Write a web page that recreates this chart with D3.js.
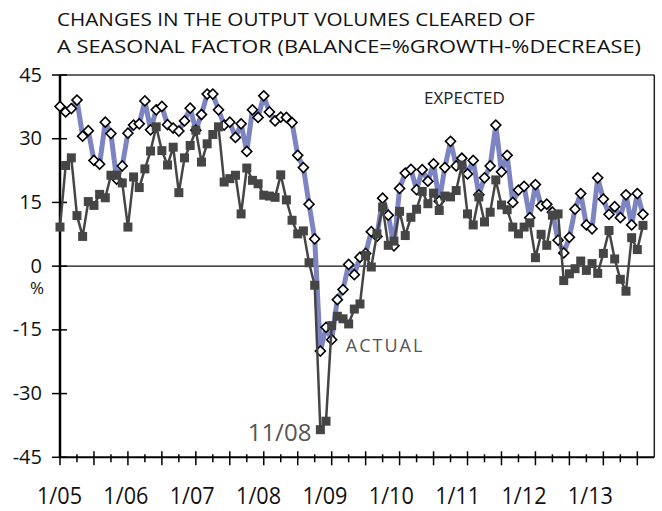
<!DOCTYPE html>
<html>
<head>
<meta charset="utf-8">
<script src="https://cdn.jsdelivr.net/npm/d3@7/dist/d3.min.js"></script>
<style>
  html, body { margin: 0; padding: 0; background: #fff; }
  svg { display: block; }
  text { font-family: "Open Sans", "DejaVu Sans", sans-serif; }
</style>
</head>
<body>
<svg id="chart" width="662" height="511"></svg>
<script>
// Monthly balance, Jan 2005 – Aug 2013 (index 0 = 1/05)
const expected = [
  37.6, 36.3, 37.1, 39.1, 30.6, 31.9, 24.9, 24.0, 33.9, 31.2, 20.5, 23.6,
  31.3, 33.2, 33.5, 38.9, 32.1, 36.8, 37.6, 33.3, 32.5, 31.8, 34.2, 37.2,
  32.0, 35.7, 40.5, 40.5, 36.8, 33.2, 33.9, 30.3, 33.5, 27.0, 36.8, 35.0,
  40.1, 36.3, 34.2, 35.1, 35.0, 33.8, 26.1, 23.2, 14.6, 6.4, -20.0, -14.4,
  -17.3, -7.9, -5.5, 0.4, -2.0, 2.1, 3.0, 8.1, 7.0, 16.0, 12.0, 4.8,
  18.3, 21.9, 22.8, 18.0, 22.7, 20.0, 24.1, 15.3, 23.2, 29.4, 23.6, 25.4,
  21.7, 24.9, 16.8, 20.8, 23.6, 33.2, 22.2, 26.1, 15.0, 17.9, 18.8, 11.4,
  19.2, 14.2, 14.6, 12.7, 6.1, 3.1, 6.8, 13.4, 17.1, 9.7, 8.8, 20.8,
  15.8, 12.2, 14.0, 11.4, 16.8, 9.7, 17.1, 12.2
];
const actual = [
  9.2, 23.7, 25.5, 11.9, 7.0, 15.2, 14.3, 16.9, 16.1, 21.4, 21.4, 19.6,
  9.2, 21.0, 18.5, 22.9, 27.1, 32.8, 27.2, 23.8, 28.0, 17.3, 25.5, 28.4,
  32.0, 24.5, 28.8, 31.0, 32.8, 19.8, 20.6, 21.4, 12.3, 23.1, 20.2, 19.4,
  16.7, 16.5, 16.2, 21.5, 15.6, 10.8, 7.6, 8.3, 0.8, -4.5, -38.5, -36.5,
  -14.0, -11.8, -12.4, -13.6, -10.1, -8.9, 2.5, -0.2, 7.6, 13.9, 4.9, 5.9,
  12.9, 7.2, 11.5, 13.4, 17.6, 14.7, 17.2, 13.1, 16.5, 16.3, 17.8, 23.8,
  12.3, 9.7, 16.3, 10.4, 12.7, 20.3, 14.4, 13.3, 9.2, 7.6, 9.2, 10.2,
  2.0, 7.5, 4.9, 12.0, 12.3, -3.4, -1.8, -0.6, 1.2, -1.0, 0.6, -1.7,
  3.0, 8.4, 1.7, -3.1, -5.9, 6.7, 3.9, 9.6
];
const yTicks = [-45, -30, -15, 0, 15, 30, 45];
const yearLabels = ["1/05", "1/06", "1/07", "1/08", "1/09", "1/10", "1/11", "1/12", "1/13"];
const titleLines = [
  "CHANGES IN THE OUTPUT VOLUMES CLEARED OF",
  "A SEASONAL FACTOR (BALANCE=%GROWTH-%DECREASE)"
];
const unitLabel = "%";
const peakLabel = "11/08";
const peakIndex = 46;

const svg = d3.select("#chart");
const plotLeft = 60, plotRight = 654.3, plotTop = 75, plotBottom = 457.3;

const x = d3.scaleLinear().domain([0, 105]).range([plotLeft, plotRight]);
const y = d3.scaleLinear().domain([-45, 45]).range([plotBottom, plotTop]);
// year labels sit a little left of their January ticks
const xLab = d3.scaleLinear().domain([0, 96]).range([x(0) - 0.5, x(96) - 13]);

// title
svg.selectAll("text.title").data(titleLines).join("text")
  .attr("class", "title")
  .attr("x", 57)
  .attr("y", (d, i) => 26 + i * 27)
  .attr("font-size", 18.5)
  .attr("fill", "#111")
  .attr("textLength", (d, i) => i === 0 ? 478 : 584)
  .attr("lengthAdjust", "spacingAndGlyphs")
  .text(d => d);

// frame: top and right
svg.append("line").attr("x1", plotLeft).attr("x2", plotRight).attr("y1", plotTop).attr("y2", plotTop)
  .attr("stroke", "#333").attr("stroke-width", 1.5);
svg.append("line").attr("x1", plotRight).attr("x2", plotRight).attr("y1", plotTop).attr("y2", plotBottom)
  .attr("stroke", "#222").attr("stroke-width", 1.5);

// zero line
svg.append("line").attr("x1", plotLeft).attr("x2", plotRight).attr("y1", y(0)).attr("y2", y(0))
  .attr("stroke", "#111").attr("stroke-width", 1.3);

// y axis
const yAxis = svg.append("g");
yAxis.append("line").attr("x1", plotLeft).attr("x2", plotLeft).attr("y1", plotTop).attr("y2", plotBottom)
  .attr("stroke", "#000").attr("stroke-width", 2.5);
yAxis.selectAll("line.tick").data(yTicks).join("line")
  .attr("class", "tick")
  .attr("x1", plotLeft - 8).attr("x2", plotLeft + 7)
  .attr("y1", d => y(d)).attr("y2", d => y(d))
  .attr("stroke", "#000").attr("stroke-width", 1.5);
yAxis.selectAll("text.ylab").data(yTicks).join("text")
  .attr("class", "ylab")
  .attr("x", 42)
  .attr("y", d => y(d) + 6.5)
  .attr("text-anchor", "end")
  .attr("font-size", 20)
  .attr("fill", "#111")
  .text(d => d);
// unit sign under the zero label
yAxis.append("text")
  .attr("x", 37)
  .attr("y", y(0) + 28)
  .attr("text-anchor", "middle")
  .attr("font-family", "'Liberation Sans', Arial, sans-serif")
  .attr("font-size", 17)
  .attr("fill", "#111")
  .text(unitLabel);

// x axis
const xAxis = svg.append("g");
xAxis.append("line").attr("x1", plotLeft).attr("x2", plotRight).attr("y1", plotBottom).attr("y2", plotBottom)
  .attr("stroke", "#000").attr("stroke-width", 2);
const xTicks = d3.range(0, 103, 3);
xAxis.selectAll("line.tick").data(xTicks).join("line")
  .attr("class", "tick")
  .attr("x1", d => x(d)).attr("x2", d => x(d))
  .attr("y1", d => d % 6 === 0 ? plotBottom - 6 : plotBottom - 3)
  .attr("y2", d => d % 6 === 0 ? plotBottom + 8 : plotBottom + 5)
  .attr("stroke", "#000").attr("stroke-width", 1.5);
xAxis.selectAll("text").data(yearLabels).join("text")
  .attr("x", (d, i) => xLab(i * 12))
  .attr("y", 503.5)
  .attr("text-anchor", "middle")
  .attr("font-size", 24)
  .attr("fill", "#111")
  .attr("textLength", 45)
  .attr("lengthAdjust", "spacingAndGlyphs")
  .text(d => d);

// series
const line = d3.line().x((d, i) => x(i)).y(d => y(d));

svg.append("path").datum(expected)
  .attr("d", line)
  .attr("fill", "none")
  .attr("stroke", "#7D84C2")
  .attr("stroke-width", 5)
  .attr("stroke-linejoin", "round");

const diamond = d3.symbol().type(d3.symbolSquare).size(50);
svg.append("g").selectAll("path").data(expected).join("path")
  .attr("d", diamond)
  .attr("transform", (d, i) => `translate(${x(i)},${y(d)}) rotate(45)`)
  .attr("fill", "#fff")
  .attr("stroke", "#000")
  .attr("stroke-width", 1.6);

svg.append("path").datum(actual)
  .attr("d", line)
  .attr("fill", "none")
  .attr("stroke", "#454545")
  .attr("stroke-width", 2.5)
  .attr("stroke-linejoin", "round");

const square = d3.symbol().type(d3.symbolSquare).size(81);
svg.append("g").selectAll("path").data(actual).join("path")
  .attr("d", square)
  .attr("transform", (d, i) => `translate(${x(i)},${y(d)})`)
  .attr("fill", "#454545");

// annotations
svg.append("text")
  .attr("x", x(64.3)).attr("y", y(38.1))
  .attr("font-size", 17)
  .attr("fill", "#222")
  .text("EXPECTED");

svg.append("text")
  .attr("x", x(50.5)).attr("y", y(-20.3))
  .attr("font-size", 18)
  .attr("letter-spacing", 2)
  .attr("fill", "#555")
  .text("ACTUAL");

svg.append("text")
  .attr("x", x(peakIndex) - 9).attr("y", y(actual[peakIndex]) + 11)
  .attr("text-anchor", "end")
  .attr("font-size", 24)
  .attr("fill", "#555")
  .text(peakLabel);
</script>
</body>
</html>
